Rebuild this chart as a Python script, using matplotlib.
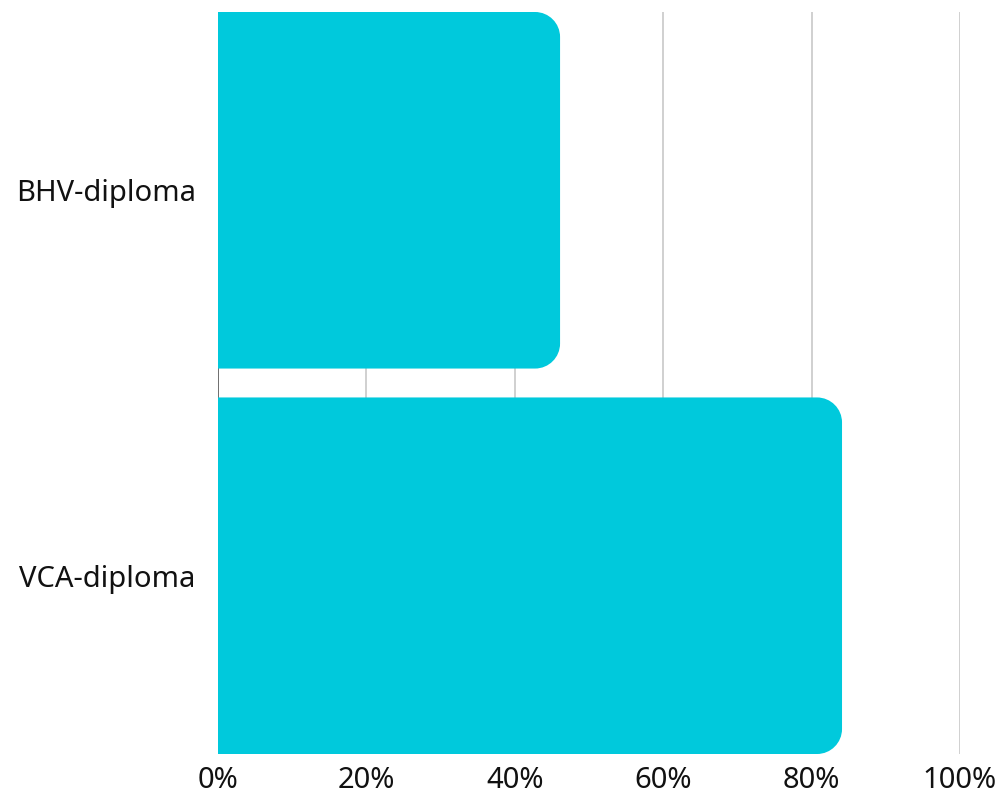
import matplotlib
matplotlib.use("Agg")
import matplotlib.pyplot as plt
from matplotlib.path import Path
from matplotlib.patches import PathPatch

categories = ["BHV-diploma", "VCA-diploma"]
values = [46.1, 84.1]
ticks = [0, 20, 40, 60, 80, 100]
tick_labels = ["0%", "20%", "40%", "60%", "80%", "100%"]

plt.rcParams['font.family'] = ['Noto Sans', 'DejaVu Sans']

W, H = 1003, 796
fig = plt.figure(figsize=(W / 100, H / 100), dpi=100)
ax = fig.add_axes([218 / W, 1 - 754 / H, (960 - 218) / W, (754 - 12) / H])

bar_h = 0.925
ax.set_xlim(0, 100)
ax.set_ylim(1 + bar_h / 2, -bar_h / 2)

# corner radius in pixels -> data units
px_x = (960 - 218) / 100.0
px_y = (754 - 12) / (1 + bar_h)
r = 25
rx, ry = r / px_x, r / px_y
k = 0.5523

color = "#00C9DC"
for i, v in enumerate(values):
    y0, y1 = i - bar_h / 2, i + bar_h / 2
    verts = [
        (0, y0), (v - rx, y0),
        (v - rx + k * rx, y0), (v, y0 + ry - k * ry), (v, y0 + ry),
        (v, y1 - ry),
        (v, y1 - ry + k * ry), (v - rx + k * rx, y1), (v - rx, y1),
        (0, y1), (0, y0),
    ]
    codes = [Path.MOVETO, Path.LINETO,
             Path.CURVE4, Path.CURVE4, Path.CURVE4,
             Path.LINETO,
             Path.CURVE4, Path.CURVE4, Path.CURVE4,
             Path.LINETO, Path.CLOSEPOLY]
    ax.add_patch(PathPatch(Path(verts, codes), facecolor=color, edgecolor="none", zorder=3))

for t in ticks[1:]:
    ax.axvline(t, color="#c8c8c8", lw=1.2, zorder=1)
ax.axvline(0, color="#555555", lw=1.2, zorder=1)

for s in ax.spines.values():
    s.set_visible(False)

ax.set_xticks(ticks)
ax.set_xticklabels(tick_labels, fontsize=21)
ax.set_yticks(range(len(categories)))
ax.set_yticklabels(categories, fontsize=21)
ax.tick_params(axis="both", length=0, colors="#111111")
ax.tick_params(axis="y", pad=16)
ax.tick_params(axis="x", pad=9)

fig.savefig("out.png", dpi=100)
